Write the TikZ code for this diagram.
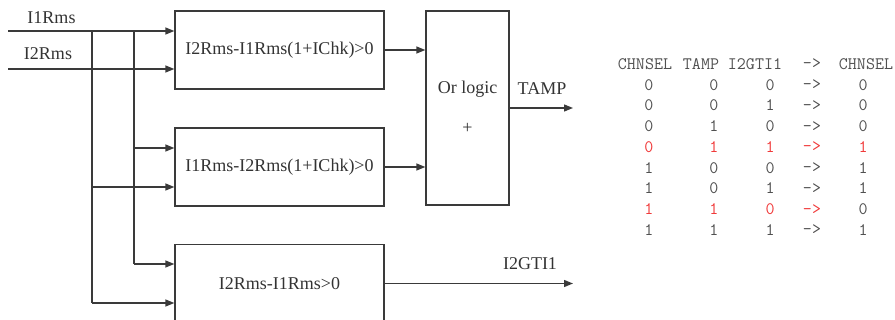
\documentclass[tikz,border=0pt]{standalone}
\usepackage{fontspec}
\setmainfont{Liberation Serif}
\usetikzlibrary{arrows.meta}
\definecolor{ln}{HTML}{3A3A3A}
\definecolor{tx}{HTML}{333333}
\definecolor{tb}{HTML}{505050}
\definecolor{rd}{HTML}{F03A3A}
\begin{document}
\begin{tikzpicture}[x=1pt,y=-1pt,
  wire/.style={draw=ln,line width=1.3pt},
  arr/.style={wire,-{Triangle[length=9pt,width=7pt]}},
  blk/.style={draw=ln,line width=1.3pt,minimum width=209pt,minimum height=78pt,inner sep=0pt,font=\fontsize{18}{20}\selectfont,text=tx},
  lbl/.style={font=\fontsize{18}{20}\selectfont,text=tx,inner sep=0pt},
  tbl/.style={font=\ttfamily\fontsize{17.5}{19}\selectfont,text=tb,inner sep=0pt},
  tred/.style={tbl,text=rd}]
\useasboundingbox (0,0) rectangle (895,320);
\clip (0,0) rectangle (895,320);
% boxes
\node[blk] (b1) at (279.5,50) {I2Rms-I1Rms(1+IChk)>0};
\node[blk] (b2) at (279.5,167) {I1Rms-I2Rms(1+IChk)>0};
\node[blk] (b3) at (279.5,283.5) {I2Rms-I1Rms>0};
\node[draw=ln,line width=1.3pt,minimum width=83pt,minimum height=194pt,inner sep=0pt] (or) at (467.5,108) {};
\node[lbl,anchor=base] (orl) at (467.5,94) {Or logic};
\node[lbl] (plus) at (467.5,128) {+};
% inputs
\coordinate (i1) at (8,31);
\coordinate (i2) at (8,69);
\node[lbl] (l1) at (51.5,17.5) {I1Rms};
\node[lbl] (l2) at (48,54) {I2Rms};
\coordinate (va) at (92,31);
\coordinate (vb) at (134,31);
\coordinate (vaend) at (92,303);
\coordinate (vbend) at (134,264);
\draw[arr] (i1) -- (b1.west |- i1);
\draw[arr] (i2) -- (b1.west |- i2);
\draw[wire] (va) -- (vaend);
\draw[wire] (vb) -- (vbend);
\draw[arr] (vb |- 0,148) -- (b2.west |- 0,148);
\draw[arr] (va |- 0,187) -- (b2.west |- 0,187);
\draw[arr] (vbend) -- (b3.west |- vbend);
\draw[arr] (vaend) -- (b3.west |- vaend);
% outputs
\draw[arr] (b1.east) -- (or.west |- b1.east);
\draw[arr] (b2.east) -- (or.west |- b2.east);
\coordinate (tampend) at (573,108);
\draw[arr] (or.east |- tampend) -- (tampend);
\node[lbl,anchor=base] (tamp) at (542,95) {TAMP};
\coordinate (gtend) at (573,283.5);
\draw[arr] (b3.east) -- (gtend);
\node[lbl] (gt) at (530,264) {I2GTI1};
% table
\node[tbl] (h1) at (645,64) {CHNSEL};
\node[tbl] (h2) at (701,64) {TAMP};
\node[tbl] (h3) at (755,64) {I2GTI1};
\node[tbl] (h4) at (812,64) {->};
\node[tbl] (h5) at (866,64) {CHNSEL};
\foreach \r/\a/\b/\c/\d [count=\i] in {0/0/0/0,0/0/1/0,0/1/0/0,0/1/1/1,1/0/0/1,1/0/1/1,1/1/0/0,1/1/1/1}{
  \pgfmathsetmacro{\yy}{64+20.75*\i}
  \ifnum\i=4
    \node[tred] (r\i a) at (649,\yy) {\r};
    \node[tred] (r\i b) at (714,\yy) {\a};
    \node[tred] (r\i c) at (770,\yy) {\b};
    \node[tred] (r\i d) at (812,\yy) {->};
    \node[tred] (r\i e) at (863,\yy) {\d};
  \else\ifnum\i=7
    \node[tred] (r\i a) at (649,\yy) {\r};
    \node[tred] (r\i b) at (714,\yy) {\a};
    \node[tred] (r\i c) at (770,\yy) {\b};
    \node[tred] (r\i d) at (812,\yy) {->};
    \node[tbl] (r\i e) at (863,\yy) {\d};
  \else
    \node[tbl] (r\i a) at (649,\yy) {\r};
    \node[tbl] (r\i b) at (714,\yy) {\a};
    \node[tbl] (r\i c) at (770,\yy) {\b};
    \node[tbl] (r\i d) at (812,\yy) {->};
    \node[tbl] (r\i e) at (863,\yy) {\d};
  \fi\fi
}
\end{tikzpicture}
\end{document}
